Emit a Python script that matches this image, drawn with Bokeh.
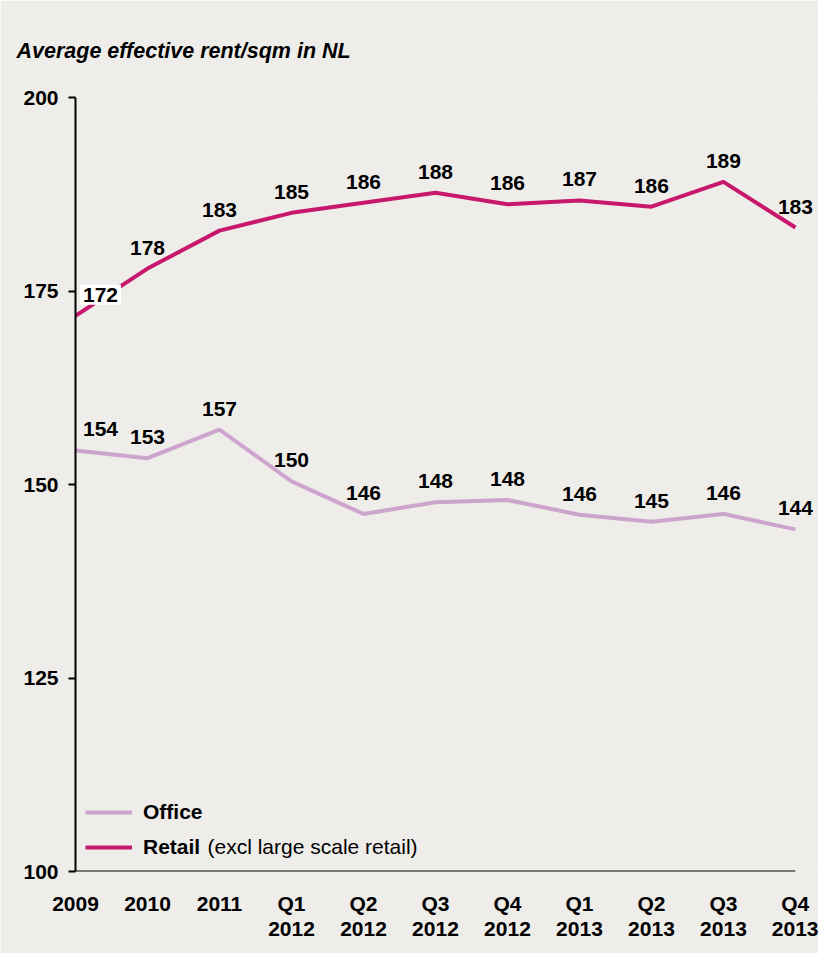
from bokeh.plotting import figure
from bokeh.models import (ColumnDataSource, LabelSet, Label, Legend, LegendItem,
                          FixedTicker, Range1d)
from bokeh.core.properties import value
from bokeh.embed import file_html
from bokeh.resources import INLINE

# ---- data ----
periods = ["2009", "2010", "2011", "Q1\n2012", "Q2\n2012", "Q3\n2012", "Q4\n2012",
           "Q1\n2013", "Q2\n2013", "Q3\n2013", "Q4\n2013"]
office = [154.4, 153.4, 157.1, 150.4, 146.2, 147.7, 148.0, 146.1, 145.2, 146.2, 144.2]
retail = [171.8, 177.9, 182.8, 185.1, 186.4, 187.7, 186.2, 186.7, 185.9, 189.1, 183.2]
y_ticks = [100, 125, 150, 175, 200]
title_text = "Average effective rent/sqm in NL"

FONT = "Liberation Sans"
BG = "#EEEDE9"
OFFICE_C = "#CDA4CE"
RETAIL_C = "#C8186E"
FS = "21px"

idx = list(range(len(periods)))

p = figure(width=818, height=953, output_backend="svg", toolbar_location=None,
           x_range=Range1d(idx[0], idx[-1] + 0.32), y_range=Range1d(y_ticks[0], y_ticks[-1]),
           min_border_left=75, min_border_right=0, min_border_top=97,
           min_border_bottom=82)
p.background_fill_color = BG
p.border_fill_color = BG
p.outline_line_color = None
p.grid.visible = False

p.title.text = title_text
p.title.text_font = FONT
p.title.text_font_style = "bold italic"
p.title.text_font_size = "21.5px"
p.title.text_color = "black"
p.title.align = "left"
p.title.offset = -59
p.title.standoff = 69

src_o = ColumnDataSource(dict(x=idx, y=office,
                              t=[str(round(v)) for v in office],
                              xo=[25] + [0] * (len(idx) - 1)))
src_r = ColumnDataSource(dict(x=idx[1:], y=retail[1:],
                              t=[str(round(v)) for v in retail[1:]]))

lo = p.line("x", "y", source=src_o, line_color=OFFICE_C, line_width=4)
lr = p.line(idx, retail, line_color=RETAIL_C, line_width=4)

# x axis baseline (frame is extended to the right so end labels are not clipped)
p.segment(x0=[idx[0]], y0=[y_ticks[0]], x1=[idx[-1]], y1=[y_ticks[0]],
          line_color="black", line_width=2)

# axes
for ax in (p.xaxis[0], p.yaxis[0]):
    ax.major_tick_line_color = "black"
    ax.major_tick_line_width = 2
    ax.minor_tick_line_color = None
    ax.major_label_text_font = FONT
    ax.major_label_text_font_style = "bold"
    ax.major_label_text_font_size = FS
    ax.major_label_text_color = "black"

p.yaxis.axis_line_color = "black"
p.yaxis.axis_line_width = 2
p.yaxis.ticker = FixedTicker(ticks=y_ticks)
p.yaxis.major_tick_out = 7
p.yaxis.major_tick_in = 0
p.yaxis.major_label_standoff = 10

p.xaxis.axis_line_color = None
p.xaxis.ticker = FixedTicker(ticks=idx)
p.xaxis.major_label_overrides = {i: s for i, s in enumerate(periods)}
p.xaxis.major_tick_out = 0
p.xaxis.major_tick_in = 0
p.xaxis.major_tick_line_color = None
p.xaxis.major_label_standoff = 20
p.xaxis.major_label_text_line_height = 1.1

# data labels
common = dict(text_font=value(FONT), text_font_style="bold", text_font_size=value(FS),
              text_color="black", text_align="center", text_baseline="middle",
              y_offset=21)
p.add_layout(LabelSet(x="x", y="y", text="t", source=src_o, x_offset="xo", **common))
p.add_layout(LabelSet(x="x", y="y", text="t", source=src_r, **common))
p.add_layout(Label(x=idx[0], y=retail[0], text=str(round(retail[0])), x_offset=25, y_offset=21,
                   text_font=FONT, text_font_style="bold", text_font_size=FS,
                   text_color="black", text_align="center", text_baseline="middle",
                   background_fill_color="white", padding=3))

# legend
legend = Legend(items=[LegendItem(label="Office", renderers=[lo]),
                       LegendItem(label="Retail", renderers=[lr])],
                location=(10, 12), orientation="vertical",
                glyph_width=47, glyph_height=20, label_height=20, spacing=11,
                label_standoff=11, padding=0, margin=0,
                border_line_color=None, background_fill_alpha=0,
                label_text_font=FONT, label_text_font_style="bold",
                label_text_font_size=FS, label_text_color="black")
p.add_layout(legend)
p.add_layout(Label(x=idx[0], y=y_ticks[0], x_offset=132, y_offset=25,
                   text="(excl large scale retail)",
                   text_font=FONT, text_font_size=FS, text_color="black",
                   text_baseline="middle", text_align="left"))

open("out.html", "w").write(file_html(p, INLINE))
